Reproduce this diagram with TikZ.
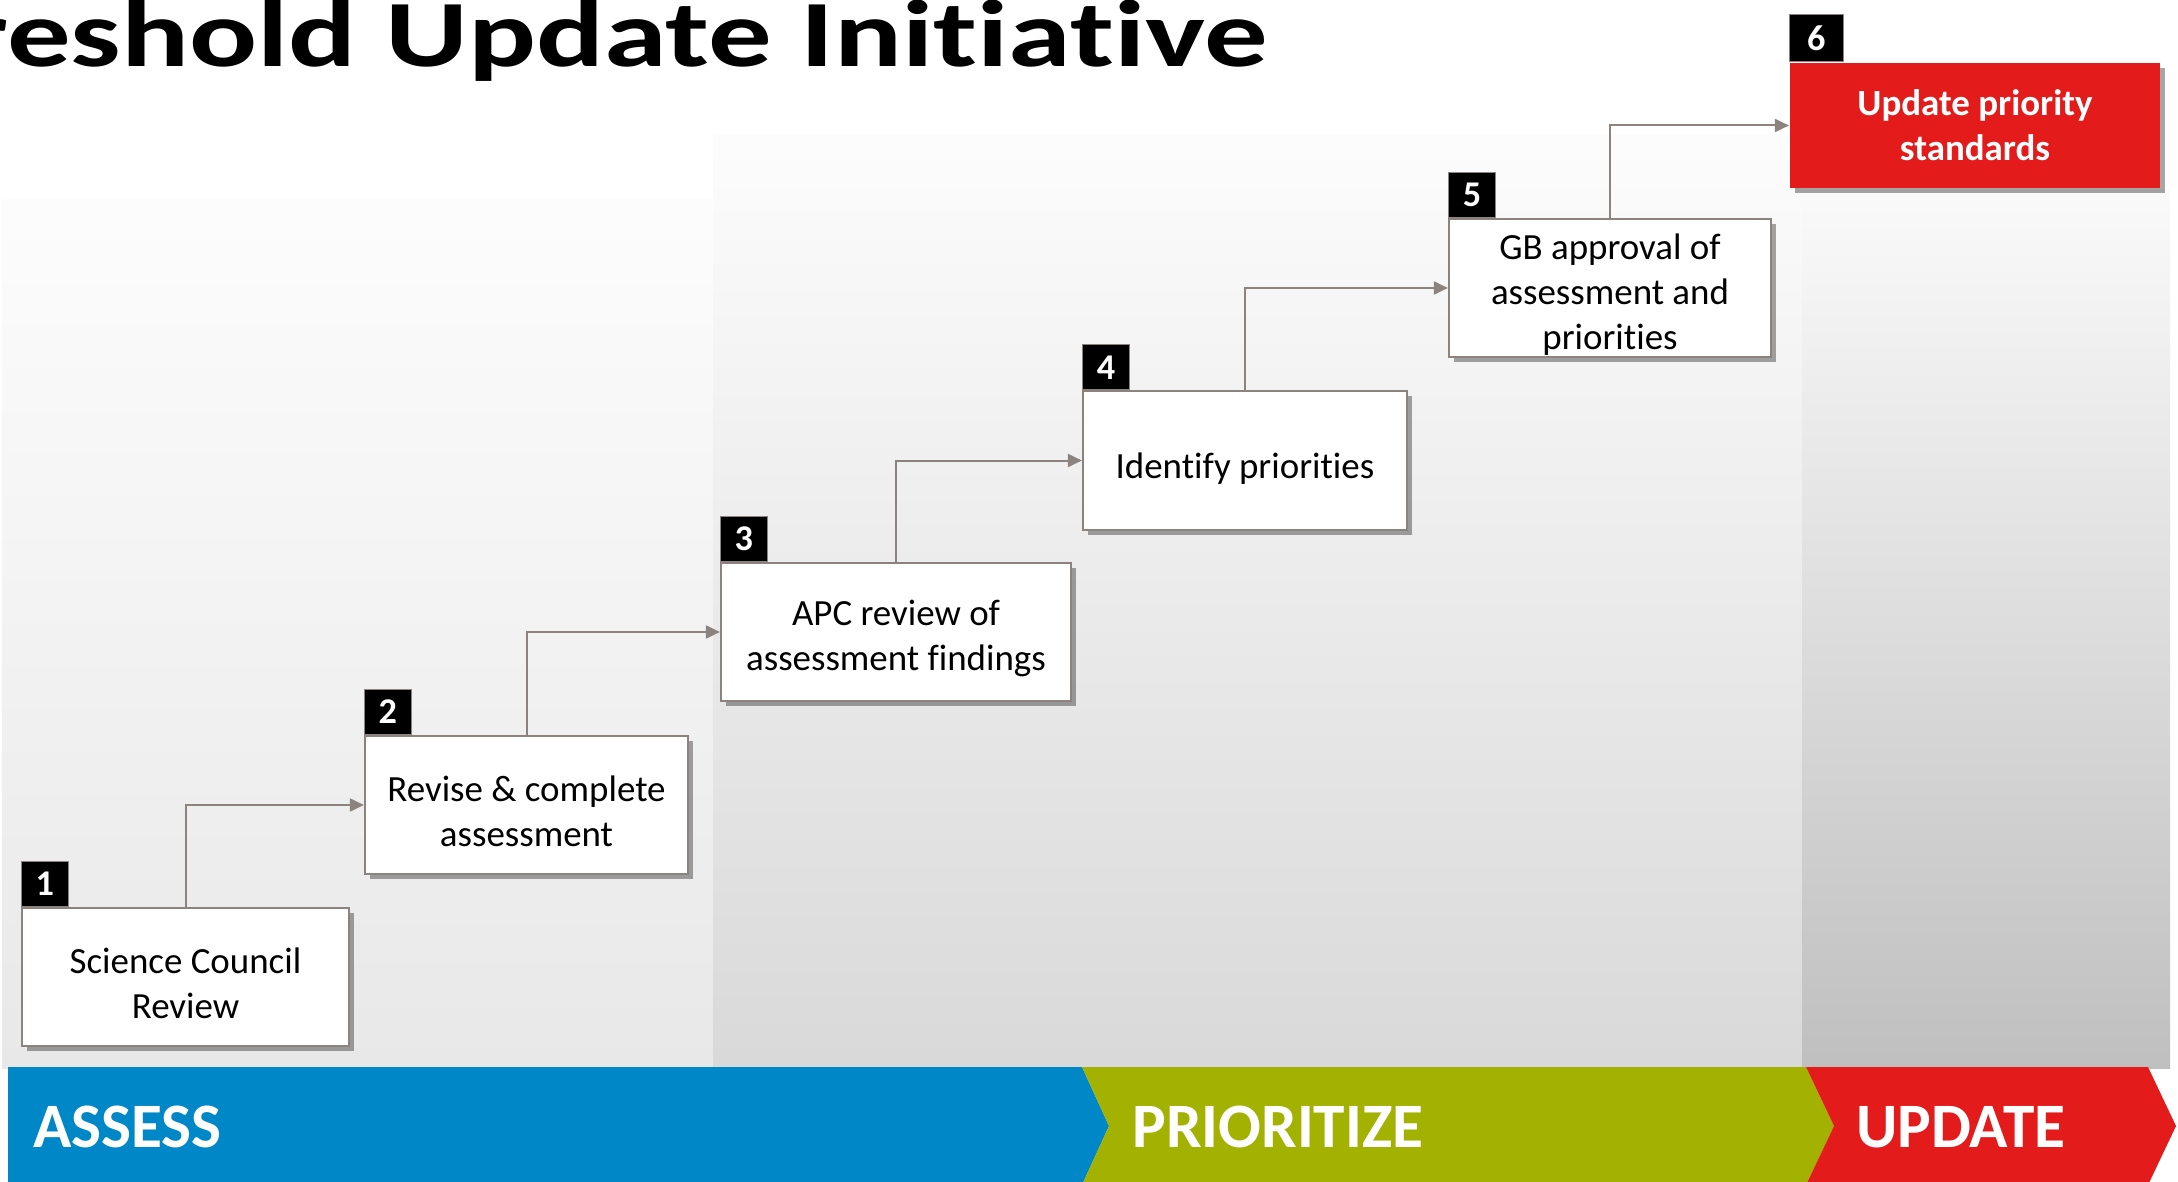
\documentclass[tikz,border=0pt]{standalone}
\usepackage{fontspec}
\setmainfont{Carlito}[Ligatures={TeX,CommonOff}]
\usetikzlibrary{arrows.meta,shadows}
\definecolor{assessblue}{RGB}{0,135,199}
\definecolor{prioritygreen}{RGB}{163,177,0}
\definecolor{updatered}{RGB}{227,27,27}
\definecolor{linegray}{RGB}{140,130,126}
\newcommand{\topgap}{\rule{0pt}{11pt}}

\begin{document}
\begin{tikzpicture}[x=0.01cm, y=-0.01cm, thick,
        main/.style = {draw=linegray, line width=0.02cm, fill=white, align=center, inner sep=0pt, minimum height=1.38cm,
            font=\fontsize{10.5pt}{12.8pt}\selectfont,
            drop shadow={shadow xshift=0.05cm, shadow yshift=-0.05cm, opacity=0.35, fill=black}},
        badge/.style = {draw=linegray, line width=0.01cm, fill=black, text=white, inner sep=0pt, anchor=south west,
            minimum width=0.47cm, minimum height=0.45cm, font=\bfseries\fontsize{10.3pt}{12pt}\selectfont},
        flow/.style = {draw=linegray, line width=0.02cm, -{Triangle[length=0.14cm, width=0.13cm]}},
        phase/.style = {text=white, anchor=base west, inner sep=0pt, font=\bfseries\fontsize{18pt}{21pt}\selectfont}]

            \useasboundingbox (0,0) rectangle (2178,1182);
            \clip (0,0) rectangle (2178,1182);
            \fill[white] (0,0) rectangle (2178,1182);

            % background panels
            \shade[top color=black!1, bottom color=black!9] (2,200) rectangle (713,1068);
            \shade[top color=black!1, bottom color=black!15] (713,135) rectangle (1802,1068);
            \shade[top color=black!2, bottom color=black!25] (1802,190) rectangle (2170,1068);

            \node[anchor=base east, inner sep=0pt, font=\bfseries\fontsize{27pt}{32pt}\selectfont] (title) at (1269,67)
                {\scalebox{1.335}[1]{Threshold Update Initiative}};

            % phase bar
            \fill[assessblue] (8,1067) -- (1082,1067) -- (1109,1126) -- (1082,1185) -- (8,1185) -- cycle;
            \fill[prioritygreen] (1082,1067) -- (1806,1067) -- (1834,1126) -- (1806,1185) -- (1082,1185) -- (1109,1126) -- cycle;
            \fill[updatered] (1806,1067) -- (2148,1067) -- (2176,1126) -- (2148,1185) -- (1806,1185) -- (1834,1126) -- cycle;
            \node[phase] (assess) at (32,1147) {ASSESS};
            \node[phase] (prioritize) at (1131,1147) {PRIORITIZE};
            \node[phase] (update) at (1855,1147) {UPDATE};

            % steps
            \node[main, minimum width=3.27cm] (1) at (185.5,977) {\topgap Science Council\\Review};
            \node[main, minimum width=3.23cm] (2) at (526.5,805) {\topgap Revise \& complete\\assessment};
            \node[main, minimum width=3.5cm] (3) at (896,632) {\topgap APC review of\\assessment findings};
            \node[main, minimum width=3.24cm] (4) at (1245,460.5) {\rule{0pt}{12pt}Identify priorities};
            \node[main, minimum width=3.22cm] (5) at (1610,288) {\topgap GB approval of\\assessment and\\priorities};
            \node[main, draw=none, fill=updatered, text=white, font=\bfseries\fontsize{10.5pt}{12.8pt}\selectfont,
                minimum width=3.7cm, minimum height=1.25cm] (6) at (1975,125.5) {Update priority\\standards};

            \node[badge] (b1) at (1.north west) {1};
            \node[badge] (b2) at (2.north west) {2};
            \node[badge] (b3) at (3.north west) {3};
            \node[badge] (b4) at (4.north west) {4};
            \node[badge] (b5) at (5.north west) {5};
            \node[badge, minimum width=0.54cm, minimum height=0.47cm] (b6) at (6.north west) {6};

            \draw[flow] (1.north) |- (2.west);
            \draw[flow] (2.north) |- (3.west);
            \draw[flow] (3.north) |- (4.west);
            \draw[flow] (4.north) |- (5.west);
            \draw[flow] (5.north) |- (6.west);

            \end{tikzpicture}
\end{document}
